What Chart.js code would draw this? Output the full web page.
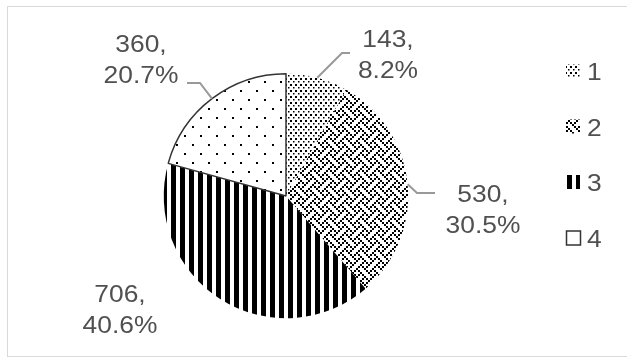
<!DOCTYPE html>
<html>
<head>
<meta charset="utf-8">
<script src="https://cdn.jsdelivr.net/npm/chart.js@4"></script>
<style>
  body { margin: 0; background: #fff; }
  canvas { display: block; }
</style>
</head>
<body>
<canvas id="area" width="627" height="359"></canvas>
<script>
      var categories = ["1", "2", "3", "4"];
      var counts = [143, 530, 706, 360];
      var percents = ["8.2%", "30.5%", "40.6%", "20.7%"];

      // label text centres and leader line shapes (layout only)
      var labelPos = [[388, 47], [483, 202], [120, 302], [141, 52]];
      var leaders = [[[342, 53], [350, 53]], [[417, 193], [435, 193]], null, [[200, 83], [187, 83]]];

      function makePattern(w, h, draw) {
        var c = document.createElement("canvas");
        c.width = w; c.height = h;
        var g = c.getContext("2d");
        g.fillStyle = "#fff";
        g.fillRect(0, 0, w, h);
        g.fillStyle = "#000";
        draw(g);
        return g.createPattern(c, "repeat");
      }

      var denseDots = makePattern(5, 6, function (g) {
        g.fillRect(0, 0, 2, 2);
        g.fillRect(3, 3, 1.5, 1.5);
      });
      var weaveBits = [0x88, 0x54, 0x22, 0x45, 0x88, 0x15, 0x22, 0x51];
      var weave = makePattern(16, 16, function (g) {
        for (var r = 0; r < 8; r++) {
          for (var c = 0; c < 8; c++) {
            if ((weaveBits[r] >> (7 - c)) & 1) g.fillRect(c * 2, r * 2, 2, 2);
          }
        }
      });
      var stripes = makePattern(9, 4, function (g) {
        g.fillRect(0, 0, 5, 4);
      });
      var sparseDots = makePattern(16, 18, function (g) {
        g.fillRect(0, 0, 2, 2);
        g.fillRect(8, 9, 2, 2);
      });
      var fills = [denseDots, weave, stripes, sparseDots];

      var textColor = "#505050";
      function stretchedText(ctx, t, x, y) {
        ctx.save();
        ctx.translate(x, y);
        ctx.scale(1.1, 1);
        ctx.fillText(t, 0, 0);
        ctx.restore();
      }

      var decorations = {
        id: "decorations",
        beforeDraw: function (chart) {
          var ctx = chart.ctx;
          ctx.save();
          ctx.strokeStyle = "#d9d9d9";
          ctx.lineWidth = 1;
          ctx.strokeRect(7.5, 6.5, 640, 350);
          ctx.restore();
        },
        afterDraw: function (chart) {
          var ctx = chart.ctx;
          var arcs = chart.getDatasetMeta(0).data;
          ctx.save();
          // leader lines
          ctx.strokeStyle = "#999";
          ctx.lineWidth = 2;
          arcs.forEach(function (arc, i) {
            if (!leaders[i]) return;
            var mid = (arc.startAngle + arc.endAngle) / 2;
            var sx = arc.x + Math.cos(mid) * arc.outerRadius;
            var sy = arc.y + Math.sin(mid) * arc.outerRadius;
            ctx.beginPath();
            ctx.moveTo(sx, sy);
            ctx.lineTo(leaders[i][0][0], leaders[i][0][1]);
            ctx.lineTo(leaders[i][1][0], leaders[i][1][1]);
            ctx.stroke();
          });
          // data labels
          ctx.fillStyle = textColor;
          ctx.font = "24px 'Liberation Sans', Arial, sans-serif";
          ctx.textAlign = "center";
          ctx.textBaseline = "alphabetic";
          counts.forEach(function (v, i) {
            stretchedText(ctx, v + ",", labelPos[i][0], labelPos[i][1]);
            stretchedText(ctx, percents[i], labelPos[i][0], labelPos[i][1] + 31);
          });
          // legend
          ctx.textAlign = "left";
          categories.forEach(function (name, i) {
            var y = 80 + i * 55.5;
            ctx.fillStyle = i === 3 ? "#fff" : fills[i];
            ctx.fillRect(566, y - 16, 14, 14);
            if (i === 3) {
              ctx.strokeStyle = "#333";
              ctx.lineWidth = 1.5;
              ctx.strokeRect(566.5, y - 15.5, 14, 14);
            }
            ctx.fillStyle = textColor;
            stretchedText(ctx, name, 587, y);
          });
          ctx.restore();
        }
      };

      var ctx = document.getElementById("area");
      var myChart = new Chart(ctx, {
        type: "pie",
        data: {
          labels: categories,
          datasets: [
            {
              data: counts,
              backgroundColor: fills,
              borderColor: "#333",
              borderWidth: [0, 0, 0, 1.5]
            }
          ]
        },
        options: {
          responsive: false,
          animation: false,
          events: [],
          layout: { padding: { left: 163, right: 218, top: 73, bottom: 40 } },
          plugins: {
            legend: { display: false },
            tooltip: { enabled: false }
          }
        },
        plugins: [decorations]
      });
</script>
</body>
</html>
